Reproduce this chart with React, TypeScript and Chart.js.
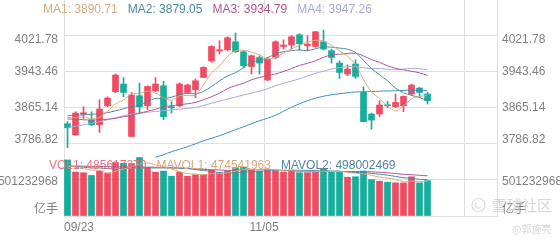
import React, { useEffect, useRef } from 'react';
import { Chart, registerables } from 'chart.js';

Chart.register(...registerables);

// ---------------- data ----------------
const xTickLabels = ['09/23', '11/05', ''];

const opens = [3829.0, 3804.8, 3849.8, 3837.1, 3826.8, 3868.4, 3899.1, 3916.0, 3801.2, 3890.3, 3868.4, 3901.3, 3912.2, 3866.2, 3868.4, 3897.6, 3903.5, 3930.4, 3967.0, 3988.3, 3991.1, 4008.6, 3986.7, 3954.5, 3974.2, 3924.7, 3974.2, 3998.3, 4002.1, 4024.0, 3999.9, 3998.3, 4008.6, 3988.9, 3962.0, 3937.9, 3959.8, 3897.6, 3850.2, 3850.2, 3870.6, 3866.2, 3868.4, 3894.1, 3907.2, 3894.1];
const closes = [3820.2, 3852.4, 3853.1, 3826.8, 3861.2, 3885.3, 3935.7, 3897.6, 3891.9, 3866.2, 3910.7, 3916.0, 3844.3, 3864.0, 3916.0, 3913.8, 3923.2, 3952.4, 3998.4, 3991.1, 4017.4, 3986.7, 3956.1, 3978.0, 3962.0, 3970.7, 4008.6, 4001.4, 4019.6, 4004.3, 4003.2, 4030.5, 3992.6, 3974.2, 3941.4, 3948.8, 3932.6, 3833.4, 3837.1, 3870.0, 3868.4, 3875.7, 3888.8, 3913.8, 3897.6, 3879.4];
const highs = [3833.4, 3855.3, 3866.2, 3855.3, 3881.6, 3888.1, 3937.9, 3930.4, 3897.6, 3918.2, 3912.2, 3930.4, 3922.1, 3877.2, 3918.2, 3916.0, 3926.9, 3953.9, 3999.9, 4010.8, 4019.6, 4027.7, 3988.9, 3979.5, 3978.0, 3974.2, 4010.8, 4013.0, 4021.8, 4026.2, 4021.8, 4031.6, 4034.3, 3992.6, 3967.0, 3958.2, 3969.2, 3910.0, 3852.4, 3879.4, 3878.3, 3894.1, 3890.3, 3916.0, 3908.6, 3897.6];
const lows = [3776.4, 3802.7, 3840.6, 3824.6, 3809.9, 3866.2, 3896.9, 3888.1, 3800.5, 3852.4, 3859.7, 3899.1, 3837.7, 3852.4, 3866.2, 3895.4, 3886.0, 3929.8, 3963.3, 3981.7, 3988.9, 3985.2, 3952.4, 3937.9, 3937.9, 3923.2, 3971.1, 3992.6, 3992.6, 3991.1, 3988.9, 3996.2, 3990.4, 3962.0, 3928.2, 3934.2, 3928.2, 3833.4, 3817.4, 3845.0, 3864.0, 3864.7, 3855.3, 3891.9, 3888.1, 3872.2];

const ma1 = [3843, 3842, 3844, 3840, 3842.7, 3855.8, 3872.4, 3881.3, 3894.3, 3895.3, 3900.4, 3896.5, 3885.8, 3880.2, 3890.2, 3890.8, 3892.3, 3913.9, 3940.8, 3955.8, 3976.5, 3989.2, 3989.9, 3985.9, 3980.0, 3970.7, 3975.1, 3984.1, 3992.5, 4000.9, 4007.4, 4011.8, 4010.0, 4001.0, 3988.4, 3977.5, 3957.9, 3926.1, 3898.7, 3884.4, 3868.3, 3856.9, 3868.0, 3883.3, 3888.9, 3890.71];
const ma2 = [3846.5, 3847.6, 3848.7, 3849.8, 3850.9, 3853.1, 3857.5, 3861.8, 3866.2, 3869.0, 3878.1, 3884.5, 3883.6, 3887.3, 3892.8, 3895.6, 3894.4, 3899.9, 3910.5, 3923.0, 3933.7, 3940.7, 3951.9, 3963.3, 3967.9, 3973.6, 3982.1, 3987.0, 3989.2, 3990.5, 3989.1, 3993.4, 3997.1, 3996.7, 3994.7, 3992.5, 3984.9, 3968.1, 3949.8, 3936.4, 3922.9, 3907.4, 3897.0, 3891.0, 3886.6, 3879.05];
const ma3 = [3839.3, 3838.9, 3837.8, 3837.1, 3837.8, 3838.9, 3841.0, 3844.3, 3847.6, 3852.0, 3856.4, 3860.8, 3866.2, 3868.4, 3870.6, 3872.8, 3875.7, 3881.6, 3888.1, 3896.0, 3905.9, 3912.6, 3917.7, 3925.3, 3930.3, 3934.6, 3938.3, 3943.4, 3949.8, 3956.7, 3961.4, 3967.1, 3974.5, 3980.0, 3981.3, 3983.0, 3983.5, 3977.6, 3969.5, 3963.4, 3956.0, 3950.4, 3947.1, 3943.9, 3940.6, 3934.79];
const ma4 = [3820.2, 3823.5, 3826.8, 3830.1, 3833.4, 3837.8, 3842.1, 3846.5, 3849.8, 3852.0, 3854.2, 3856.0, 3857.5, 3859.2, 3861.0, 3862.7, 3864.7, 3869.3, 3873.9, 3878.5, 3883.1, 3887.5, 3891.9, 3896.2, 3900.4, 3905.7, 3912.2, 3917.7, 3922.5, 3927.5, 3933.6, 3939.5, 3944.2, 3949.1, 3951.8, 3953.9, 3953.8, 3951.7, 3949.8, 3950.0, 3948.5, 3947.2, 3948.7, 3950.3, 3949.7, 3947.26];
const ma5 = [null, null, null, null, null, null, null, null, null, null, null, 3755.6, 3761.1, 3767.7, 3773.1, 3778.6, 3785.2, 3791.8, 3797.2, 3802.7, 3809.3, 3815.9, 3822.4, 3829.0, 3835.6, 3841.1, 3847.6, 3856.4, 3865.2, 3872.8, 3879.4, 3884.9, 3889.3, 3892.5, 3894.7, 3896.9, 3898.5, 3899.1, 3899.6, 3900.2, 3900.9, 3901.3, 3902.0, 3902.4, 3902.2, 3901.3];

// volumes in millions of units
const volumes = [770, 603, 594, 557, 617, 585, 734, 724, 720, 803, 664, 603, 617, 547, 603, 547, 567, 567, 631, 594, 617, 664, 672, 631, 617, 631, 617, 603, 631, 594, 594, 617, 650, 603, 603, 533, 539, 617, 501, 478, 464, 455, 455, 539, 455, 485.61727];
const mavol1 = [690, 670, 650, 630, 628, 591, 617, 643, 676, 713, 729, 703, 681, 647, 607, 583, 576, 566, 583, 581, 595, 615, 636, 636, 640, 643, 634, 620, 620, 615, 608, 608, 617, 612, 613, 601, 586, 579, 559, 534, 520, 503, 471, 478, 474, 474.541963];
const mavol2 = [680, 680, 670, 660, 660, 650, 650, 660, 660, 671, 660, 660, 662, 661, 660, 656, 640, 624, 615, 594, 589, 595, 601, 609, 611, 619, 624, 628, 628, 628, 625, 621, 619, 616, 614, 605, 597, 598, 585, 574, 561, 544, 525, 518, 504, 498.002469];
const mavol3 = [685, 685, 684, 682, 680, 678, 677, 676, 675, 674, 672, 670, 665, 660, 655, 650, 645, 640, 636, 632, 625, 628, 632, 635, 635, 638, 632, 626, 621, 611, 607, 608, 610, 613, 613, 612, 610, 613, 606, 601, 593, 583, 572, 567, 559, 552];

const priceTicks = [3786.82, 3865.14, 3943.46, 4021.78];
const volumeTicks = [0, 501232968];
const volumeUnitLabel = '亿手';
const maNames = ['MA1', 'MA2', 'MA3', 'MA4'];
const volNames = ['VOL1', 'MAVOL1', 'MAVOL2'];
const watermarkTitle = '雪球社区';
const watermarkAuthor = '@郭施亮';

// ---------------- styles ----------------
const FONT = 'Arial, "Liberation Sans", "Noto Sans CJK SC", sans-serif';
const CJK_FONT = '"Noto Sans CJK SC", sans-serif';
const UP = '#ef4b62';
const DOWN = '#17ad9b';
const GRID = '#e0e0e0';
const TICK = '#808080';
const MA_COLORS = ['#d9a97f', '#4d8a9c', '#b0568f', '#a5aad9'];
const MA5_COLOR = '#3b8fb8';
const VOL_TEXT = '#ea7480';
const MAVOL_COLORS = ['#d9a97f', '#4f86a6', '#a8578c'];

const VOL_SCALE = 1e6;
const PRICE_MIN = 3786.82;
const PRICE_MAX = 4100.1;
const VOL_MAX = 1002465936;
const X_MIN = -0.4375;
const X_MAX = X_MIN + 54.125;
const X_TICK_STEP = 25;
const PRICE_LABEL_SHIFT = [-3.5, 0, 0, 3.5];
const VOL_LABEL_SHIFT = [-6, 2.5];

const shifted = (text: string, s: number) => (s > 0 ? ['', text] : s < 0 ? [text, ''] : text);
const tickFont = (s: number) => ({ family: FONT, size: 12, lineHeight: s ? `${Math.abs(s) * 2}px` : 1.2 });

function yAxis(
  position: 'left' | 'right',
  weight: number,
  min: number,
  max: number,
  values: number[],
  fmt: (v: number) => string,
  shifts: number[],
  showGrid: boolean
) {
  return {
    type: 'linear',
    position,
    stack: 'main',
    stackWeight: weight,
    min,
    max,
    afterBuildTicks: (s: any) => {
      s.ticks = values.map((v) => ({ value: v }));
    },
    afterFit: (s: any) => {
      s.width = position === 'left' ? 64 : 63;
      s.paddingTop = 0;
      s.paddingBottom = 0;
    },
    grid: { display: showGrid, color: GRID, drawTicks: false, lineWidth: 1 },
    border: { display: true, color: GRID },
    ticks: {
      autoSkip: false,
      padding: position === 'left' ? 6 : 5,
      color: TICK,
      font: (ctx: any) => tickFont(shifts[ctx.index] || 0),
      callback: (v: any, i: number) => shifted(fmt(Number(v)), shifts[i] || 0),
    },
  };
}

const overlayPlugin = {
  id: 'overlay',
  afterDraw(chart: any) {
    const c: CanvasRenderingContext2D = chart.ctx;
    c.save();
    c.font = `12px ${FONT}`;
    c.textBaseline = 'middle';
    c.textAlign = 'left';
    const maLast = [ma1, ma2, ma3, ma4].map((a) => a[a.length - 1] as number);
    let x = 43;
    maNames.forEach((name, k) => {
      const t = `${name}: ${maLast[k].toFixed(2)}`;
      c.fillStyle = MA_COLORS[k];
      c.fillText(t, x, 10);
      x += c.measureText(t).width + 10;
    });
    const volLast = [volumes, mavol1, mavol2].map((a) => Math.round(a[a.length - 1] * VOL_SCALE));
    const volColors = [VOL_TEXT, MAVOL_COLORS[0], MAVOL_COLORS[1]];
    x = 49;
    volNames.forEach((name, k) => {
      const t = `${name}: ${volLast[k]}`;
      c.fillStyle = volColors[k];
      c.fillText(t, x, 166);
      x += c.measureText(t).width + 10;
    });
    // watermark
    c.globalAlpha = 0.75;
    c.strokeStyle = '#cfcfcf';
    c.lineWidth = 1.2;
    c.beginPath();
    c.arc(478.5, 205, 6.5, 0, Math.PI * 2);
    c.stroke();
    c.beginPath();
    c.arc(478.5, 205, 3, Math.PI * 0.2, Math.PI * 1.3);
    c.stroke();
    c.fillStyle = '#c8c8c8';
    c.font = `15px ${CJK_FONT}`;
    c.fillText(watermarkTitle, 492, 205);
    c.font = `10px ${CJK_FONT}`;
    c.fillText(watermarkAuthor, 512, 229);
    c.restore();
  },
};

export default function App() {
  const ref = useRef<HTMLCanvasElement>(null);

  useEffect(() => {
    document.body.style.margin = '0';
    const canvas = ref.current;
    if (!canvas) return;
    const idx = closes.map((_, i) => i);
    const colors = idx.map((i) => (closes[i] >= opens[i] ? UP : DOWN));

    const line = (label: string, arr: (number | null)[], color: string, axis: string, scale = 1, clip: any = undefined) => ({
      type: 'line' as const,
      label,
      data: idx.map((i) => ({ x: i, y: arr[i] == null ? null : (arr[i] as number) * scale })),
      borderColor: color,
      backgroundColor: color,
      borderWidth: 1,
      pointRadius: 0,
      tension: 0.3,
      spanGaps: false,
      xAxisID: 'x',
      yAxisID: axis,
      order: 0,
      ...(clip !== undefined ? { clip } : {}),
    });

    const chart = new Chart(canvas, {
      type: 'bar',
      data: {
        datasets: [
          line('MA1', ma1, MA_COLORS[0], 'yP'),
          line('MA2', ma2, MA_COLORS[1], 'yP'),
          line('MA3', ma3, MA_COLORS[2], 'yP'),
          line('MA4', ma4, MA_COLORS[3], 'yP'),
          line('MA5', ma5, MA5_COLOR, 'yP', 1, false),
          line('MAVOL1', mavol1, MAVOL_COLORS[0], 'yV', VOL_SCALE),
          line('MAVOL2', mavol2, MAVOL_COLORS[1], 'yV', VOL_SCALE),
          line('MAVOL3', mavol3, MAVOL_COLORS[2], 'yV', VOL_SCALE),
          {
            type: 'bar',
            label: 'body',
            data: idx.map((i) => ({ x: i, y: [opens[i], closes[i]] })),
            backgroundColor: colors,
            borderWidth: 0,
            barThickness: 6,
            minBarLength: 1,
            grouped: false,
            xAxisID: 'x',
            yAxisID: 'yP',
            order: 2,
          } as any,
          {
            type: 'bar',
            label: 'wick',
            data: idx.map((i) => ({ x: i, y: [lows[i], highs[i]] })),
            backgroundColor: colors,
            borderWidth: 0,
            barThickness: 1,
            grouped: false,
            clip: false,
            xAxisID: 'x',
            yAxisID: 'yP',
            order: 3,
          } as any,
          {
            type: 'bar',
            label: 'VOL',
            data: idx.map((i) => ({ x: i, y: volumes[i] * VOL_SCALE })),
            backgroundColor: colors,
            borderWidth: 0,
            barThickness: 6,
            grouped: false,
            xAxisID: 'x',
            yAxisID: 'yV',
            order: 2,
          } as any,
        ] as any,
      },
      options: {
        responsive: false,
        maintainAspectRatio: false,
        animation: false,
        devicePixelRatio: 1,
        events: [],
        layout: { padding: 0, autoPadding: false },
        plugins: { legend: { display: false }, tooltip: { enabled: false }, title: { display: false } },
        scales: {
          x: {
            type: 'linear',
            min: X_MIN,
            max: X_MAX,
            offset: false,
            afterBuildTicks: (s: any) => {
              s.ticks = xTickLabels.map((_, k) => ({ value: X_MIN + k * X_TICK_STEP }));
            },
            afterFit: (s: any) => {
              s.height = 24;
              s.paddingLeft = 0;
              s.paddingRight = 0;
            },
            grid: { color: GRID, drawTicks: false, offset: false, lineWidth: 1 },
            border: { display: true, color: GRID },
            ticks: {
              autoSkip: false,
              maxRotation: 0,
              align: 'inner',
              padding: 4,
              color: TICK,
              font: { family: FONT, size: 12 },
              callback: (_v: any, i: number) => xTickLabels[i] ?? '',
            },
          },
          yV: yAxis('left', 73, 0, VOL_MAX, volumeTicks, (v) => (v === 0 ? volumeUnitLabel : String(v)), VOL_LABEL_SHIFT, true),
          yP: yAxis('left', 143, PRICE_MIN, PRICE_MAX, priceTicks, (v) => v.toFixed(2), PRICE_LABEL_SHIFT, true),
          yPR: yAxis('right', 143, PRICE_MIN, PRICE_MAX, priceTicks, (v) => v.toFixed(2), PRICE_LABEL_SHIFT, false),
          yVR: yAxis('right', 73, 0, VOL_MAX, volumeTicks, (v) => (v === 0 ? volumeUnitLabel : String(v)), VOL_LABEL_SHIFT, false),
        } as any,
      },
      plugins: [overlayPlugin],
    } as any);

    return () => chart.destroy();
  }, []);

  return (
    <div style={{ width: 560, height: 240, background: '#fff' }}>
      <canvas ref={ref} width={560} height={240} style={{ display: 'block', width: 560, height: 240 }} />
    </div>
  );
}
